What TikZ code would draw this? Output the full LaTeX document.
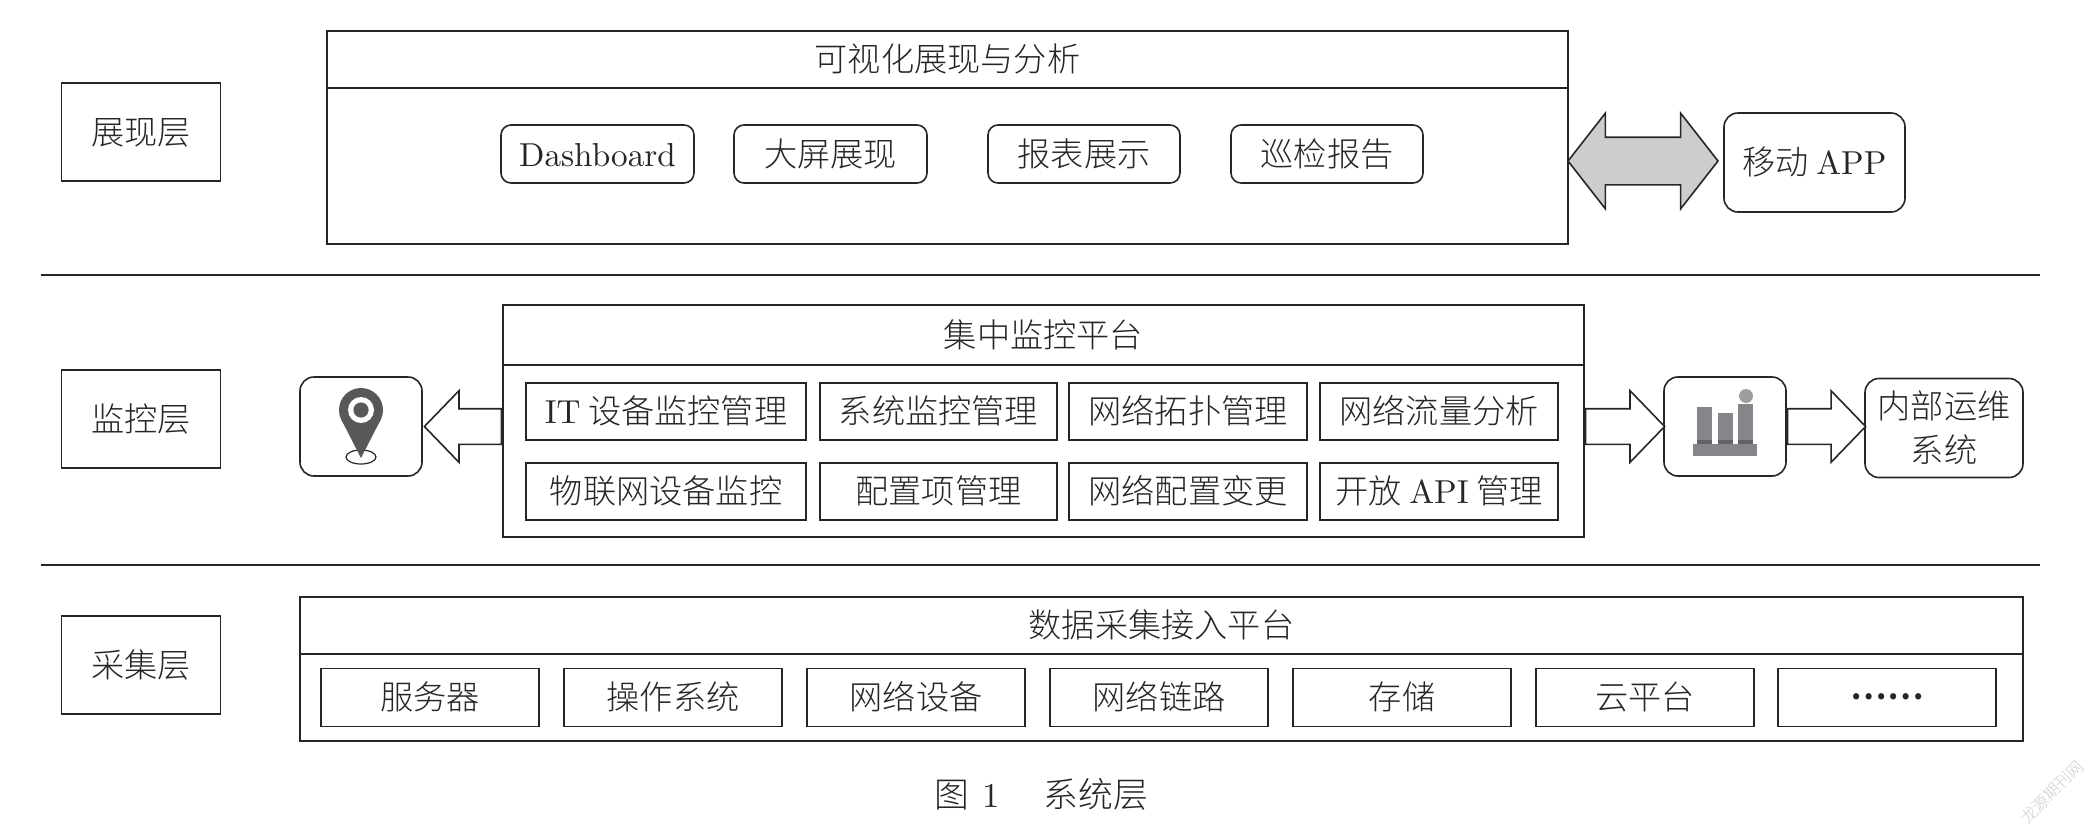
\documentclass[tikz,border=0pt]{standalone}
\usepackage{fontspec}
\newfontfamily\cjk{Noto Sans CJK SC Light}
\newfontfamily\lat{lmroman10-regular.otf}
\usetikzlibrary{shapes.arrows}
\definecolor{ink}{HTML}{262626}
\definecolor{arrowgray}{HTML}{CCCDCF}
\definecolor{pingray}{HTML}{58585A}
\definecolor{bargray}{HTML}{86868A}
\definecolor{bardark}{HTML}{626266}
\begin{document}
\begin{tikzpicture}[
  x=.5pt,y=-.5pt,
  line width=.8pt,
  boxed/.style={draw=ink,inner sep=0pt,text=ink,align=center,
    font=\fontsize{16.6}{22}\selectfont\cjk},
  labelled/.style={boxed,text height=14.3pt,text depth=2pt},
  layerbox/.style={labelled,minimum width=79.5pt,minimum height=49pt},
  round/.style={labelled,rounded corners=5pt,minimum height=29pt},
  moncell/.style={labelled,minimum height=28.5pt},
  basecell/.style={labelled,minimum width=109pt,minimum height=29pt},
  blockarrow/.style={draw=ink,fill=white,single arrow,inner sep=8.5pt,anchor=tail,
    single arrow head extend=9pt,single arrow tip angle=92,shape border rotate=#1},
  ]
  \useasboundingbox (0,0) rectangle (2093,831);
  % Layer labels
  \node[layerbox] (show) at (141,132) {展现层};
  \node[layerbox] (monitor) at (141,419) {监控层};
  \node[layerbox] (collect) at (141,665) {采集层};
  % Dividers
  \coordinate (d1a) at (41,275);
  \coordinate (d1b) at (2040,275);
  \coordinate (d2a) at (41,565);
  \coordinate (d2b) at (2040,565);
  \draw[ink] (d1a) -- (d1b);
  \draw[ink] (d2a) -- (d2b);
  % Top panel
  \node[labelled,minimum width=620.5pt,minimum height=28.5pt] (vistitle) at (947.5,59.5) {可视化展现与分析};
  \node[boxed,minimum width=620.5pt,minimum height=78pt] (visbody) at (947.5,166) {};
  \node[round,minimum width=96.5pt] (dash) at (597.5,154) {\lat Dashboard};
  \node[round,minimum width=96.5pt] (screen) at (830.5,154) {大屏展现};
  \node[round,minimum width=96pt] (report) at (1084,154) {报表展示};
  \node[round,minimum width=96pt] (inspect) at (1327,154) {巡检报告};
  \node[labelled,rounded corners=7pt,minimum width=90.5pt,minimum height=49.5pt] (app) at (1814.5,162.5) {移动 {\lat APP}};
  \node[draw=ink,fill=arrowgray,double arrow,inner sep=11.5pt,minimum height=75pt,
    double arrow head extend=12pt,double arrow tip angle=104] (sync) at (1643,161) {};
  % Monitoring panel
  \node[labelled,minimum width=540.5pt,minimum height=30pt] (montitle) at (1043.5,335) {集中监控平台};
  \node[boxed,minimum width=540.5pt,minimum height=86pt] (monbody) at (1043.5,451) {};
  \node[moncell,minimum width=140pt] (m1) at (666,411.5) {{\lat IT} 设备监控管理};
  \node[moncell,minimum width=118.5pt] (m2) at (938.5,411.5) {系统监控管理};
  \node[moncell,minimum width=119pt] (m3) at (1188,411.5) {网络拓扑管理};
  \node[moncell,minimum width=119pt] (m4) at (1439,411.5) {网络流量分析};
  \node[moncell,minimum width=140pt] (m5) at (666,491.5) {物联网设备监控};
  \node[moncell,minimum width=118.5pt] (m6) at (938.5,491.5) {配置项管理};
  \node[moncell,minimum width=119pt] (m7) at (1188,491.5) {网络配置变更};
  \node[moncell,minimum width=119pt] (m8) at (1439,491.5) {开放 {\lat API} 管理};
  % Side boxes
  \node[boxed,rounded corners=7pt,minimum width=61pt,minimum height=49.5pt] (pin) at (361,426.5) {};
  \node[boxed,rounded corners=7pt,minimum width=61pt,minimum height=49.5pt] (chart) at (1725,426.5) {};
  \node[boxed,rounded corners=7pt,minimum width=79pt,minimum height=49.5pt] (ops) at (1944,428) {内部运维\\系统};
  % Block arrows
  \node[blockarrow=180,minimum height=38.5pt] (toPin) at (monbody.west |- pin.center) {};
  \node[blockarrow=0,minimum height=39.5pt] (toChart) at (monbody.east |- chart.center) {};
  \node[blockarrow=0,minimum height=39pt] (toOps) at (chart.east) {};
  % Pin icon
  \draw[ink,fill=white,line width=.6pt] (361,457) ellipse[x radius=7.5pt,y radius=3.5pt];
  \fill[pingray] (361,410) circle[radius=11pt];
  \fill[pingray] (341,419) -- (381,419) -- (361,458) -- cycle;
  \fill[white] (361,410) circle[radius=6.5pt];
  \fill[pingray] (361,410) circle[radius=3.8pt];
  % Chart icon
  \fill[bargray] (1693,444) rectangle (1757,456);
  \fill[bargray] (1697,407) rectangle (1712,444);
  \fill[bargray] (1718,413) rectangle (1733,444);
  \fill[bargray] (1738,404) rectangle (1753,444);
  \fill[bardark] (1697,440) rectangle (1712,444);
  \fill[bardark] (1718,440) rectangle (1733,444);
  \fill[bardark] (1738,440) rectangle (1753,444);
  \fill[bargray!80] (1746,396) circle[radius=3.5pt];
  % Collection panel
  \node[labelled,minimum width=861.5pt,minimum height=28.5pt] (coltitle) at (1161.5,625.5) {数据采集接入平台};
  \node[boxed,minimum width=861.5pt,minimum height=43.5pt] (colbody) at (1161.5,697.5) {};
  \node[basecell] (c1) at (430,697.5) {服务器};
  \node[basecell] (c2) at (673,697.5) {操作系统};
  \node[basecell] (c3) at (916,697.5) {网络设备};
  \node[basecell] (c4) at (1159,697.5) {网络链路};
  \node[basecell] (c5) at (1402,697.5) {存储};
  \node[basecell] (c6) at (1645,697.5) {云平台};
  \node[basecell] (c7) at (1887,697.5) {\raisebox{5.3pt}{\bfseries ……}};
  % Caption and mark
  \node[text=ink,font=\fontsize{17.4}{20}\selectfont\cjk] (caption) at (1041,794) {图\hspace{6.5pt}{\lat 1}\hspace{22pt}系统层};
  \node[text=black!20,rotate=45,font=\fontsize{8}{10}\selectfont\cjk] (mark) at (2052,792) {龙源期刊网};
\end{tikzpicture}
\end{document}
